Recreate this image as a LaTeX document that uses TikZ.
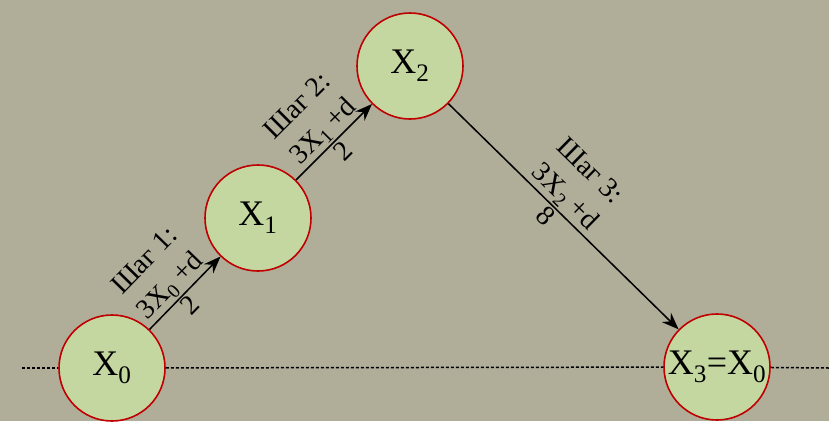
\documentclass[tikz,border=0pt]{standalone}
\usepackage{fontspec}
\setmainfont{Liberation Serif}
\usetikzlibrary{arrows.meta}
\definecolor{bg}{RGB}{176,173,153}
\definecolor{leaf}{RGB}{196,215,160}
\definecolor{red}{RGB}{192,0,0}

\begin{document}
\begin{tikzpicture}[x=1pt, y=-1pt,
        state/.style={circle, draw=red, line width=1.6pt, fill=leaf, minimum size=106pt, inner sep=0pt, font=\fontsize{36}{40}\selectfont},
        arrow/.style={-{Stealth[length=17pt, width=13pt]}, line width=1.5pt},
        lbl/.style={sloped, font=\fontsize{28}{36}\selectfont, inner sep=2pt},
        axis/.style={dash pattern=on 3pt off 2pt, line width=1.5pt}]

    \fill[bg] (0,0) rectangle (829,421);
    \useasboundingbox (0,0) rectangle (829,421);

    \coordinate (lft) at (22,368);
    \coordinate (rgt) at (829,368);

    \node[state] (x0) at (112,368) {X\textsubscript{0}};
    \node[state] (x1) at (258,218) {X\textsubscript{1}};
    \node[state] (x2) at (410,66) {X\textsubscript{2}};
    \node[state] (x3) at (717,367) {X\textsubscript{3}=X\textsubscript{0}};

    \draw[axis] (lft) -- (x0);
    \draw[axis] (x0) -- (x3);
    \draw[axis] (x3) -- (rgt);

    \draw[arrow] (x0) -- node[lbl, above, pos=0.45, align=center] {Шаг 1:\\3X\textsubscript{0} +d} node[lbl, below, pos=0.45] {2} (x1);
    \draw[arrow] (x1) -- node[lbl, above, pos=0.5, align=center] {Шаг 2:\\3X\textsubscript{1} +d} node[lbl, below, pos=0.5] {2} (x2);
    \draw[arrow] (x2) -- node[lbl, above, pos=0.46, align=center] {Шаг 3:\\3X\textsubscript{2} +d} node[lbl, below, pos=0.46] {8} (x3);
\end{tikzpicture}
\end{document}
